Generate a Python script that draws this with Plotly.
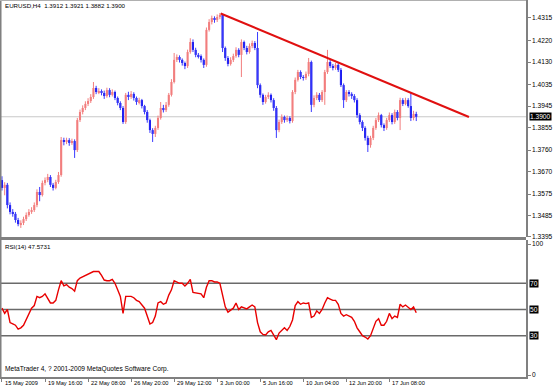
import plotly.graph_objects as go

# ---------------- data ----------------
bar_index = list(range(155))

opens = [
1.3634,1.3601,1.3614,1.3529,1.3500,1.3492,1.3466,1.3449,1.3454,1.3470,
1.3487,1.3500,1.3508,1.3529,1.3584,1.3571,1.3622,1.3634,1.3647,1.3614,
1.3601,1.3626,1.3655,1.3802,1.3794,1.3802,1.3790,1.3798,1.3760,1.3886,
1.3920,1.3937,1.3954,1.3966,1.3983,1.4021,1.4004,1.4008,1.4000,1.3987,
1.4012,1.3992,1.4004,1.3979,1.3958,1.3937,1.3878,1.3992,1.3983,1.3996,
1.3979,1.3962,1.3970,1.3945,1.3920,1.3886,1.3844,1.3828,1.3853,1.3895,
1.3937,1.3928,1.3950,1.3992,1.4046,1.4139,1.4151,1.4139,1.4126,1.4113,
1.4172,1.4214,1.4181,1.4160,1.4155,1.4139,1.4118,1.4265,1.4298,1.4315,
1.4307,1.4319,1.4328,1.4189,1.4147,1.4122,1.4139,1.4155,1.4181,1.4160,
1.4214,1.4189,1.4172,1.4197,1.4210,1.4189,1.4033,1.3992,1.3962,1.3983,
1.3992,1.3970,1.3937,1.3844,1.3878,1.3899,1.3886,1.3895,1.3882,1.4004,
1.4055,1.4088,1.4067,1.4063,1.4080,1.4130,1.3950,1.3979,1.3992,1.3970,
1.4004,1.4088,1.4130,1.4113,1.4105,1.4118,1.4097,1.4033,1.3970,1.4004,
1.3996,1.3987,1.3970,1.3907,1.3878,1.3853,1.3811,1.3781,1.3811,1.3853,
1.3886,1.3907,1.3865,1.3853,1.3886,1.3907,1.3878,1.3920,1.3895,1.3970,
1.3954,1.3970,1.3945,1.3895,1.3912]

closes = [
1.3601,1.3614,1.3529,1.3500,1.3492,1.3466,1.3449,1.3454,1.3470,1.3487,
1.3500,1.3508,1.3529,1.3584,1.3571,1.3622,1.3634,1.3647,1.3614,1.3601,
1.3626,1.3655,1.3802,1.3794,1.3802,1.3790,1.3798,1.3760,1.3886,1.3920,
1.3937,1.3954,1.3966,1.3983,1.4021,1.4004,1.4008,1.4000,1.3987,1.4012,
1.3992,1.4004,1.3979,1.3958,1.3937,1.3878,1.3992,1.3983,1.3996,1.3979,
1.3962,1.3970,1.3945,1.3920,1.3886,1.3844,1.3828,1.3853,1.3895,1.3937,
1.3928,1.3950,1.3992,1.4046,1.4139,1.4151,1.4139,1.4126,1.4113,1.4172,
1.4214,1.4181,1.4160,1.4155,1.4139,1.4118,1.4265,1.4298,1.4315,1.4307,
1.4319,1.4328,1.4189,1.4147,1.4122,1.4139,1.4155,1.4181,1.4160,1.4214,
1.4189,1.4172,1.4197,1.4210,1.4189,1.4033,1.3992,1.3962,1.3983,1.3992,
1.3970,1.3937,1.3844,1.3878,1.3899,1.3886,1.3895,1.3882,1.4004,1.4055,
1.4088,1.4067,1.4063,1.4080,1.4130,1.3950,1.3979,1.3992,1.3970,1.4004,
1.4088,1.4130,1.4113,1.4105,1.4118,1.4097,1.4033,1.3970,1.4004,1.3996,
1.3987,1.3970,1.3907,1.3878,1.3853,1.3811,1.3781,1.3811,1.3853,1.3886,
1.3907,1.3865,1.3853,1.3886,1.3907,1.3878,1.3920,1.3895,1.3970,1.3954,
1.3970,1.3945,1.3895,1.3912,1.3900]

highs = [
1.3650,1.3625,1.3622,1.3540,1.3512,1.3500,1.3475,1.3465,1.3480,1.3498,
1.3512,1.3520,1.3540,1.3595,1.3605,1.3632,1.3645,1.3660,1.3655,1.3622,
1.3635,1.3668,1.3815,1.3812,1.3812,1.3810,1.3808,1.3805,1.3895,1.3930,
1.3948,1.3965,1.3978,1.3995,1.4046,1.4030,1.4020,1.4015,1.4010,1.4022,
1.4020,1.4015,1.4010,1.3985,1.3965,1.3945,1.4000,1.4005,1.4008,1.4003,
1.3985,1.3980,1.3975,1.3950,1.3928,1.3892,1.3852,1.3862,1.3905,1.3962,
1.3950,1.3962,1.4000,1.4058,1.4168,1.4162,1.4158,1.4145,1.4132,1.4182,
1.4230,1.4225,1.4190,1.4168,1.4162,1.4145,1.4275,1.4310,1.4325,1.4322,
1.4330,1.4336,1.4332,1.4195,1.4155,1.4150,1.4165,1.4192,1.4188,1.4225,
1.4220,1.4198,1.4208,1.4220,1.4218,1.4256,1.4040,1.3998,1.3992,1.4003,
1.3998,1.3978,1.3945,1.3888,1.3910,1.3905,1.3905,1.3902,1.4012,1.4065,
1.4097,1.4095,1.4075,1.4090,1.4147,1.4136,1.3990,1.4003,1.4000,1.4012,
1.4097,1.4181,1.4140,1.4122,1.4126,1.4125,1.4105,1.4040,1.4012,1.4012,
1.4003,1.3995,1.3978,1.3915,1.3885,1.3860,1.3820,1.3820,1.3862,1.3895,
1.3918,1.3912,1.3872,1.3895,1.3918,1.3915,1.3930,1.3928,1.3980,1.3978,
1.3980,1.3978,1.4004,1.3925,1.3921]

lows = [
1.3590,1.3570,1.3515,1.3490,1.3480,1.3455,1.3440,1.3433,1.3445,1.3462,
1.3480,1.3492,1.3500,1.3520,1.3545,1.3565,1.3612,1.3625,1.3605,1.3590,
1.3595,1.3618,1.3648,1.3780,1.3785,1.3778,1.3782,1.3727,1.3752,1.3878,
1.3910,1.3928,1.3945,1.3958,1.3975,1.3995,1.3995,1.3990,1.3975,1.3980,
1.3982,1.3985,1.3970,1.3948,1.3928,1.3870,1.3870,1.3970,1.3975,1.3968,
1.3950,1.3952,1.3935,1.3910,1.3875,1.3832,1.3794,1.3815,1.3845,1.3888,
1.3918,1.3920,1.3942,1.3985,1.4040,1.4130,1.4128,1.4115,1.4100,1.4105,
1.4165,1.4172,1.4150,1.4145,1.4128,1.4105,1.4110,1.4258,1.4288,1.4295,
1.4298,1.4310,1.4172,1.4135,1.4112,1.4115,1.4130,1.4148,1.4150,1.4067,
1.4180,1.4162,1.4165,1.4188,1.4180,1.4020,1.3980,1.3950,1.3955,1.3975,
1.3960,1.3925,1.3811,1.3835,1.3870,1.3875,1.3878,1.3872,1.3875,1.3995,
1.4048,1.4058,1.4052,1.4055,1.4070,1.3920,1.3940,1.3970,1.3962,1.3962,
1.3950,1.4080,1.4105,1.4095,1.4097,1.4088,1.4025,1.3937,1.3962,1.3985,
1.3975,1.3960,1.3895,1.3868,1.3840,1.3800,1.3752,1.3770,1.3802,1.3845,
1.3878,1.3855,1.3840,1.3845,1.3878,1.3868,1.3870,1.3885,1.3844,1.3945,
1.3948,1.3938,1.3882,1.3885,1.3882]

rsi = [
51,47,50,40,39,38,35,36,38,42,
46,51,53,60,59,60,62,58,55,55,
57,65,72,68,69,67,66,64,72,74,
75,76,77,78,79,79,79,76,72.5,72,
72,73,70,65,60,47,60,60,60,59,
57,56,53,51,45,39,40,45,55,56,
54,55,61,65,72,71,70,70,68,70,
73,63,62.5,62.5,62,59,67,72,72,71,
71,70,60,52,48,49.6,51,55,50,52,
51,50.5,52,53.4,52,40,33,31,30.5,33,
34,30,27,32,34,36,34,37,42,53,
56,54,55,54.5,55,44,45,49,47,50,
55,59,58,57,57,54,47,45,46,45,
44,41,36,33,30,29,27.5,30,36,41,
43,38,38,41,47,43,45,44,54,52,
53.4,52,50,52,47.5731]

trend_x = [81.3, 173.6]
trend_y = [1.4334, 1.3899]

x_tick_idx = [0, 16, 32, 48, 64, 80, 96, 112, 128, 144]
x_tick_text = ["15 May 2009", "19 May 16:00", "22 May 08:00", "26 May 20:00",
               "29 May 12:00", "3 Jun 00:00", "5 Jun 16:00", "10 Jun 04:00",
               "12 Jun 20:00", "17 Jun 08:00"]
price_ticks = [1.4315, 1.4220, 1.4130, 1.4035, 1.3945, 1.3855, 1.3760,
               1.3670, 1.3575, 1.3485, 1.3395]
rsi_levels = [70, 50, 30]
last_price = 1.3900
header_text = "EURUSD,H4  1.3912 1.3921 1.3882 1.3900"
rsi_text = "RSI(14) 47.5731"
footer_text = "MetaTrader 4, ? 2001-2009 MetaQuotes Software Corp."

# ---------------- styling ----------------
FONT = "Liberation Sans, Arial, sans-serif"
FS = 6.6
FS_SMALL = 5.7
FS_HEAD = 6.2
BULL = "#f27e7e"
BEAR = "#0a0ae6"
GRAY = "#808080"
PLOT_W, PLOT_H = 526, 377


def py(p):
    return (PLOT_H - p) / PLOT_H


fig = go.Figure()

# wicks
for up, col in ((True, BULL), (False, "#3a3aff")):
    xs, ys = [], []
    for i, o, h, l, c in zip(bar_index, opens, highs, lows, closes):
        if (c >= o) == up:
            xs += [i, i, None]
            ys += [l, h, None]
    fig.add_trace(go.Scatter(x=xs, y=ys, mode="lines", line=dict(color=col, width=1),
                             hoverinfo="skip", xaxis="x", yaxis="y"))

# bodies
for up, col in ((True, BULL), (False, BEAR)):
    bx, bb, bh = [], [], []
    for i, o, c in zip(bar_index, opens, closes):
        if (c >= o) == up:
            bx.append(i)
            bb.append(min(o, c))
            bh.append(max(abs(c - o), 0.00018))
    fig.add_trace(go.Bar(x=bx, y=bh, base=bb, width=0.78, marker=dict(color=col, line=dict(width=0)),
                         hoverinfo="skip", xaxis="x", yaxis="y"))

# trend line
fig.add_trace(go.Scatter(x=trend_x, y=trend_y, mode="lines", line=dict(color="#e01010", width=2),
                         xaxis="x", yaxis="y", hoverinfo="skip"))

# RSI
fig.add_trace(go.Scatter(x=bar_index, y=rsi, mode="lines", line=dict(color="#e80000", width=1.4),
                         xaxis="x", yaxis="y2", hoverinfo="skip"))

shapes = []
# bid line
shapes.append(dict(type="line", xref="paper", yref="y", x0=0, x1=1, y0=last_price, y1=last_price,
                   line=dict(color="#c8c8c8", width=1), layer="below"))
# rsi levels
for lv in rsi_levels:
    shapes.append(dict(type="line", xref="paper", yref="y2", x0=0, x1=1, y0=lv, y1=lv,
                       line=dict(color="#6a6a6a", width=1.5), layer="below"))
# separator between panels
shapes.append(dict(type="rect", xref="paper", yref="paper", x0=0, x1=1, y0=py(240), y1=py(237),
                   fillcolor=GRAY, line=dict(width=0)))
# left & top borders
shapes.append(dict(type="line", xref="paper", yref="paper", x0=0.001, x1=0.001, y0=0, y1=1,
                   line=dict(color=GRAY, width=2)))
shapes.append(dict(type="line", xref="paper", yref="paper", x0=0, x1=1, y0=py(0.5), y1=py(0.5),
                   line=dict(color="#b0b0b0", width=1)))

annotations = [
    dict(text=header_text, xref="paper", yref="paper", x=3 / PLOT_W, y=py(5.5), xanchor="left",
         yanchor="middle", showarrow=False, font=dict(family=FONT, size=FS_HEAD, color="black")),
    dict(text=rsi_text, xref="paper", yref="paper", x=3 / PLOT_W, y=py(246), xanchor="left",
         yanchor="middle", showarrow=False, font=dict(family=FONT, size=FS_HEAD, color="black")),
    dict(text=footer_text, xref="paper", yref="paper", x=3 / PLOT_W, y=py(369), xanchor="left",
         yanchor="middle", showarrow=False, font=dict(family=FONT, size=FS, color="black")),
    dict(text="%.4f" % last_price, xref="paper", yref="y", x=1 + 3 / PLOT_W, y=last_price,
         xanchor="left", yanchor="middle", showarrow=False, bgcolor="black", borderpad=0,
         font=dict(family=FONT, size=FS, color="white")),
]
for lv in rsi_levels:
    annotations.append(dict(text=str(lv), xref="paper", yref="y2", x=1 + 3 / PLOT_W, y=lv,
                            xanchor="left", yanchor="middle", showarrow=False, bgcolor="black",
                            borderpad=0, font=dict(family=FONT, size=FS, color="white")))
# time labels below the axis, starting at their bar
for idx, txt in zip(x_tick_idx, x_tick_text):
    annotations.append(dict(text=txt, xref="x", yref="paper", x=idx, y=py(383.5),
                            xanchor="left", yanchor="middle", xshift=1, showarrow=False,
                            font=dict(family=FONT, size=FS_SMALL, color="black")))

tickfont = dict(family=FONT, size=FS, color="black")

fig.update_layout(
    template="none",
    width=553, height=390,
    margin=dict(l=0, r=27, t=0, b=13, autoexpand=False),
    paper_bgcolor="white", plot_bgcolor="white",
    showlegend=False, hovermode=False, barmode="overlay",
    shapes=shapes, annotations=annotations,
    xaxis=dict(domain=[0, 1], range=[-0.74, 194.8], anchor="y2", tickmode="array",
               tickvals=x_tick_idx, showticklabels=False, ticks="outside", ticklen=3,
               tickcolor=GRAY, showline=True, linecolor=GRAY, linewidth=2, showgrid=False,
               zeroline=False, automargin=False),
    yaxis=dict(domain=[py(237), 1], range=[1.33948, 1.43906], side="right", anchor="x",
               tickmode="array", tickvals=price_ticks,
               ticktext=["%.4f" % v for v in price_ticks], ticks="outside", ticklen=3,
               tickcolor=GRAY, tickfont=tickfont, showline=True, linecolor=GRAY, linewidth=1.5,
               showgrid=False, zeroline=False, automargin=False),
    yaxis2=dict(domain=[0, py(240)], range=[-1.53, 103.05], side="right", anchor="x",
                tickmode="array", tickvals=[0, 100], ticktext=["0", "100"], ticks="outside",
                ticklen=3, tickcolor=GRAY, tickfont=tickfont, showline=True, linecolor=GRAY,
                linewidth=1.5, showgrid=False, zeroline=False, automargin=False),
)

fig.write_html("out.html", config={"displayModeBar": False},
               post_script="document.body.style.margin='0';document.body.style.overflow='hidden';")
